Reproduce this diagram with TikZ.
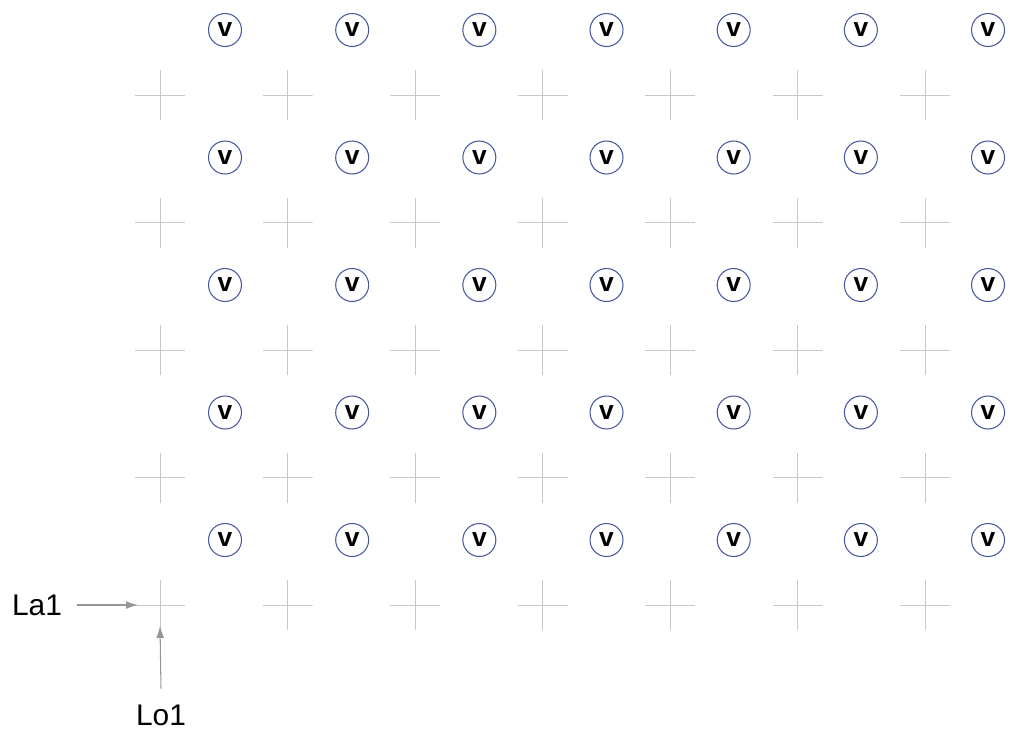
\documentclass[tikz,border=0pt]{standalone}
\usepackage{fontspec}
\setmainfont{Liberation Sans}
\usetikzlibrary{arrows.meta, positioning}

\definecolor{circblue}{RGB}{72,88,160}
\definecolor{crossgray}{RGB}{200,200,200}
\definecolor{arrgray}{RGB}{150,150,150}

\begin{document}
\begin{tikzpicture}[
  x=0.02cm, y=-0.02cm,
  every node/.style={font=\fontsize{17}{20}\selectfont},
  vnode/.style={
    circle, draw=circblue, line width=0.6pt,
    minimum size=0.66cm, inner sep=0pt,
    font=\fontsize{15}{18}\selectfont\bfseries
  },
  gridpt/.style={
    rectangle, minimum size=1cm, inner sep=0pt,
    path picture={
      \draw[crossgray, line width=0.55pt]
        (path picture bounding box.north) -- (path picture bounding box.south)
        (path picture bounding box.west) -- (path picture bounding box.east);
    }
  },
  arr/.style={-{Latex[length=2.4mm, width=1.6mm]}, arrgray, line width=0.6pt},
  lbl/.style={inner sep=2pt}
]
\useasboundingbox (0,0) rectangle (1010,735);

% value points (circles)
\foreach \i in {1,...,7} {
  \foreach \j in {1,...,5} {
    \node[vnode] (v\i\j) at ({225+127.17*(\i-1)}, {30+127.5*(\j-1)}) {v};
  }
}

% grid crossings
\foreach \i in {1,...,7} {
  \foreach \j in {1,...,5} {
    \node[gridpt] (g\i\j) at ({160+127.5*(\i-1)}, {95+127.5*(\j-1)}) {};
  }
}

% axis labels
\node[lbl] (la1) at (37, 605) {La1};
\node[lbl] (lo1) at (161, 715) {Lo1};

\draw[arr] ([xshift=0.22cm]la1.east) -- ([xshift=-0.44cm]g15.center);
\draw[arr] ([yshift=0.24cm]lo1.north) -- ([yshift=-0.42cm]g15.center);

\end{tikzpicture}
\end{document}
